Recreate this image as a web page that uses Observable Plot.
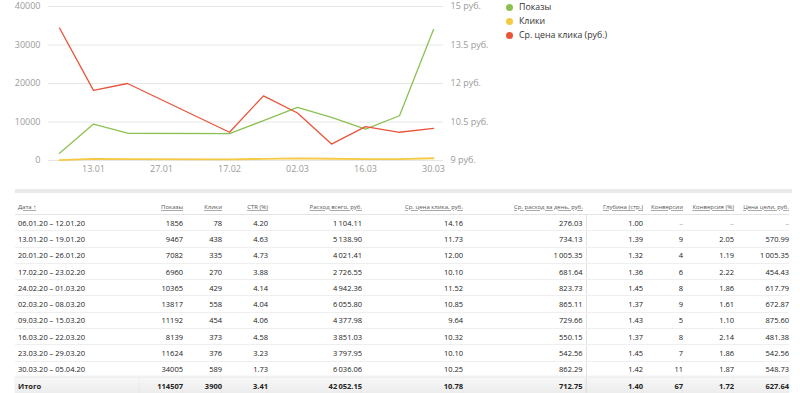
<!DOCTYPE html>
<html><head><meta charset="utf-8">
<script src="https://cdn.jsdelivr.net/npm/d3@7"></script>
<script src="https://cdn.jsdelivr.net/npm/@observablehq/plot@0.6"></script>
<style>
html,body{margin:0;padding:0;background:#fff;font-family:"Open Sans",sans-serif;}
#wrap{position:relative;width:800px;height:393px;overflow:hidden;}
#chart{position:absolute;left:0;top:0;}
#legend{position:absolute;left:506px;top:0;font-size:8.8px;color:#333;}
#legend div{height:14px;line-height:11px;display:flex;align-items:center;}
#legend span.dot{display:inline-block;width:7px;height:7px;border-radius:50%;margin-right:6px;}
#bar{position:absolute;left:15px;top:189px;width:777px;height:4px;background:#e9e9e9;}
table{position:absolute;left:15px;top:199px;border-collapse:collapse;table-layout:fixed;font-size:7.5px;color:#222;}
td,th{padding:0;white-space:nowrap;text-align:right;overflow:visible;}
th{font-weight:normal;font-size:6px;color:#555;height:15px;border-bottom:1px solid #e4e4e4;vertical-align:middle;}
th span{text-decoration:underline;text-decoration-color:#aaa;}
td{height:15.3px;border-bottom:1px solid #efefef;}
td.l,th.l{text-align:left;padding-left:3px;}
td.sep,th.sep{padding-right:3px;}
td.sep{border-right:1px solid #e2e2e2;}
td.na{color:#aaa;}
tr.tot td{font-weight:bold;height:16px;border-bottom:none;background:linear-gradient(#f7f7f7,#ececec);box-shadow:0 -1px 2px rgba(0,0,0,0.08);}
</style></head>
<body><div id="wrap"><div id="chart"></div><div id="legend"></div><div id="bar"></div><table id="tbl"></table></div>
<script>
// ---- chart data ----
const axisWeeks = ["06.01","13.01","20.01","27.01","03.02","17.02","24.02","02.03","09.03","16.03","23.03","30.03"];
const weeks = ["06.01","13.01","20.01","17.02","24.02","02.03","09.03","16.03","23.03","30.03"];
const xTicks = ["13.01","27.01","17.02","02.03","16.03","30.03"];
const leftTicks = [0,10000,20000,30000,40000];
const rubTicks = [9,10.5,12,13.5,15];
const shows = [1856,9467,7082,6960,10365,13817,11192,8139,11624,34005];
const clicks = [78,438,335,270,429,558,454,373,376,589];
const cpc = [14.16,11.73,12.00,10.10,11.52,10.85,9.64,10.32,10.10,10.25];
const seriesNames = ["Показы","Клики","Ср. цена клика (руб.)"];
const seriesColors = ["#8cc152","#f6c944","#e8553a"];

// ---- table data ----
const ranges = ["06.01.20 – 12.01.20","13.01.20 – 19.01.20","20.01.20 – 26.01.20","17.02.20 – 23.02.20","24.02.20 – 01.03.20","02.03.20 – 08.03.20","09.03.20 – 15.03.20","16.03.20 – 22.03.20","23.03.20 – 29.03.20","30.03.20 – 05.04.20"];
const ctr = [4.20,4.63,4.73,3.88,4.14,4.04,4.06,4.58,3.23,1.73];
const spend = [1104.11,5138.90,4021.41,2726.55,4942.36,6055.80,4377.98,3851.03,3797.95,6036.06];
const daily = [276.03,734.13,1005.35,681.64,823.73,865.11,729.66,550.15,542.56,862.29];
const depth = [1.00,1.39,1.32,1.36,1.45,1.37,1.43,1.37,1.45,1.42];
const conv = [null,9,4,6,8,9,5,8,7,11];
const convRate = [null,2.05,1.19,2.22,1.86,1.61,1.10,2.14,1.86,1.87];
const goalCost = [null,570.99,1005.35,454.43,617.79,672.87,875.60,481.38,542.56,548.73];
const totals = ["Итого",114507,3900,3.41,42052.15,10.78,712.75,1.40,67,1.72,627.64];
const headers = ["Дата ↑","Показы","Клики","CTR (%)","Расход всего, руб.","Ср. цена клика, руб.","Ср. расход за день, руб.","Глубина (стр.)","Конверсии","Конверсия (%)","Цена цели, руб."];
const colWidths = [125,43,39,46,94,101,123,57,40,51,55];

// ---- chart ----
const toLeft = r => (r - 9) / 6 * 40000;
const rows = weeks.map((w,i) => ({w, shows: shows[i], clicks: clicks[i], cpc: cpc[i]}));
const chart = Plot.plot({
  width: 500, height: 180,
  marginLeft: 48, marginRight: 57, marginTop: 6, marginBottom: 20,
  style: {fontFamily: "Open Sans", fontSize: "9px", color: "#9a9a9a", background: "transparent"},
  x: {type: "point", domain: axisWeeks, padding: 0.143, label: null},
  y: {domain: [0, 40000], label: null},
  marks: [
    Plot.ruleY(leftTicks, {stroke: "#e6e6e6"}),
    Plot.axisY(leftTicks, {tickSize: 0, tickPadding: 8, tickFormat: d3.format("d"), label: null}),
    Plot.axisY(rubTicks.map(toLeft), {anchor: "right", tickSize: 0, tickPadding: 7, label: null,
      tickFormat: d => (+(d / 40000 * 6 + 9).toFixed(2)) + " руб."}),
    Plot.axisX(xTicks, {tickSize: 0, tickPadding: 5, label: null}),
    Plot.line(rows, {x: "w", y: "shows", stroke: seriesColors[0], strokeWidth: 1.3}),
    Plot.line(rows, {x: "w", y: "clicks", stroke: seriesColors[1], strokeWidth: 1.8}),
    Plot.line(rows, {x: "w", y: d => toLeft(d.cpc), stroke: seriesColors[2], strokeWidth: 1.3})
  ]
});
document.getElementById("chart").appendChild(chart);

// legend
const lg = document.getElementById("legend");
seriesNames.forEach((n,i) => {
  const d = document.createElement("div");
  d.innerHTML = `<span class="dot" style="background:${seriesColors[i]}"></span>${n}`;
  lg.appendChild(d);
});

// ---- table ----
const loc = d3.formatLocale({decimal: ".", thousands: "\u2009", grouping: [3]});
const f2 = loc.format(",.2f"), p2 = d3.format(".2f"), fi = d3.format("d");
const fmts = [s => s, fi, fi, p2, f2, p2, f2, p2, fi, p2, f2];
const tbl = document.getElementById("tbl");
const cg = document.createElement("colgroup");
colWidths.forEach(w => { const c = document.createElement("col"); c.style.width = w + "px"; cg.appendChild(c); });
tbl.appendChild(cg);
tbl.style.width = d3.sum(colWidths) + "px";
const cls = i => i === 0 ? "l" : (i === 6 ? "sep" : "");
let h = "<tr>" + headers.map((t,i) => `<th class="${cls(i)}"><span>${t}</span></th>`).join("") + "</tr>";
ranges.forEach((r,k) => {
  const vals = [r, shows[k], clicks[k], ctr[k], spend[k], cpc[k], daily[k], depth[k], conv[k], convRate[k], goalCost[k]];
  h += "<tr>" + vals.map((v,i) => v == null ? `<td class="na ${cls(i)}">–</td>` : `<td class="${cls(i)}">${fmts[i](v)}</td>`).join("") + "</tr>";
});
h += '<tr class="tot">' + totals.map((v,i) => `<td class="${cls(i)}">${fmts[i](v)}</td>`).join("") + "</tr>";
tbl.insertAdjacentHTML("beforeend", h);
</script></body></html>
